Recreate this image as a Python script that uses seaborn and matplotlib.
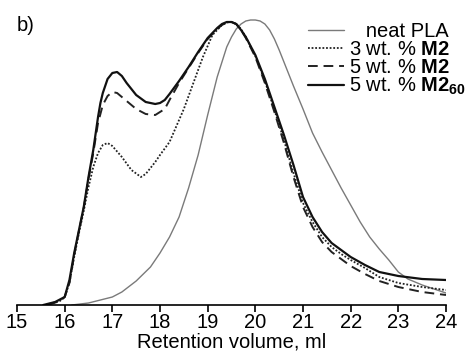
import matplotlib
matplotlib.use("Agg")
import matplotlib.pyplot as plt
import seaborn as sns

# ---- data (y in arbitrary detector units) ----
x_pla = [16.15, 16.5, 17.0, 17.2, 17.5, 17.8, 18.0, 18.2, 18.4, 18.6, 18.8, 19.0, 19.2, 19.4, 19.5,
         19.6, 19.7, 19.8, 19.9, 20.0, 20.1, 20.2, 20.3, 20.4, 20.5, 20.6, 20.8, 21.0, 21.2, 21.4,
         21.6, 21.8, 22.0, 22.2, 22.4, 22.6, 22.8, 23.0, 23.2, 23.5, 24.0]
y_pla = [0, 2, 8, 13, 24, 38, 52, 68, 88, 117, 150, 190, 228, 258, 268,
         276, 281, 284, 285, 285, 284, 281, 275, 266, 255, 243, 219, 196, 172, 153,
         135, 117, 100, 83, 68, 56, 45, 33, 26, 20, 12]

x_3m2 = [15.6, 15.9, 16.0, 16.1, 16.2, 16.3, 16.4, 16.5, 16.6, 16.7, 16.8, 16.9, 17.0, 17.2, 17.4,
         17.6, 17.7, 17.8, 17.9, 18.0, 18.2, 18.4, 18.5, 18.7, 18.9, 19.1, 19.3, 19.4, 19.5, 19.6,
         19.7, 19.8, 20.0, 20.2, 20.4, 20.6, 20.8, 21.0, 21.2, 21.4, 21.6, 21.8, 22.0, 22.3, 22.6,
         23.0, 23.5, 24.0]
y_3m2 = [0, 4, 8, 22, 48, 72, 94, 118, 138, 152, 160, 162, 159, 148, 135,
         128, 131, 137, 143, 150, 163, 185, 196, 222, 248, 270, 280, 282.5, 283, 281,
         276, 268, 249, 224, 195, 165, 132, 102, 83, 68, 58, 51, 45, 37, 28,
         22, 18, 15]

x_5m2 = [15.65, 15.9, 16.0, 16.1, 16.2, 16.3, 16.4, 16.5, 16.6, 16.7, 16.8, 16.9, 17.0, 17.1, 17.3,
         17.5, 17.7, 17.9, 18.1, 18.2, 18.4, 18.6, 18.8, 19.0, 19.2, 19.3, 19.4, 19.5, 19.6, 19.7,
         19.8, 20.0, 20.2, 20.4, 20.6, 20.8, 21.0, 21.2, 21.4, 21.6, 21.8, 22.0, 22.3, 22.6, 23.0,
         23.5, 24.0]
y_5m2 = [0, 4, 8, 22, 50, 74, 97, 126, 152, 182, 200, 209, 213, 212, 204,
         196, 191, 190, 196, 205, 222, 237, 252, 266, 276, 280, 282.5, 283, 281, 275,
         267, 248, 222, 193, 162, 128, 98, 78, 63, 53, 46, 39, 31, 24, 18,
         13, 10]

x_5m260 = [15.55, 15.8, 16.0, 16.1, 16.2, 16.3, 16.4, 16.5, 16.6, 16.7, 16.75, 16.8, 16.9, 17.0, 17.1,
           17.2, 17.3, 17.5, 17.7, 17.9, 18.0, 18.1, 18.2, 18.4, 18.6, 18.8, 19.0, 19.2, 19.3, 19.4,
           19.5, 19.6, 19.7, 19.8, 20.0, 20.2, 20.4, 20.6, 20.8, 21.0, 21.2, 21.4, 21.6, 21.8, 22.0,
           22.3, 22.6, 23.0, 23.5, 24.0]
y_5m260 = [0, 3, 8, 25, 52, 75, 98, 128, 155, 188, 202, 212, 226, 232, 233,
           229, 222, 210, 203, 201, 202, 205, 211, 224, 238, 253, 267, 277, 281, 283,
           283, 281, 275, 268, 250, 226, 198, 170, 140, 108, 88, 73, 62, 55, 48,
           40, 33, 29, 26, 25]

labels = ["   neat PLA", r"3 wt. % $\mathbf{M2}$", r"5 wt. % $\mathbf{M2}$",
          r"5 wt. % $\mathbf{M2}_{\mathbf{60}}$"]
xticks = [15, 16, 17, 18, 19, 20, 21, 22, 23, 24]

sns.set_theme(style="white")
plt.rcParams["font.family"] = ["Liberation Sans", "DejaVu Sans"]
plt.rcParams["mathtext.fontset"] = "custom"
plt.rcParams["mathtext.rm"] = "Liberation Sans"
plt.rcParams["mathtext.bf"] = "Liberation Sans:bold"
plt.rcParams["mathtext.it"] = "Liberation Sans:italic"

fig = plt.figure(figsize=(4.77, 3.56), dpi=100)
ax = fig.add_axes([17 / 477, 51 / 356, 429 / 477, 305 / 356])

sns.lineplot(x=x_pla, y=y_pla, ax=ax, color="#7a7a7a", linewidth=1.0, label=labels[0])
sns.lineplot(x=x_3m2, y=y_3m2, ax=ax, color="#222222", linewidth=1.3, linestyle=(0, (1, 1)),
             label=labels[1])
sns.lineplot(x=x_5m2, y=y_5m2, ax=ax, color="#222222", linewidth=1.4, linestyle=(0, (5, 3)),
             label=labels[2])
sns.lineplot(x=x_5m260, y=y_5m260, ax=ax, color="#111111", linewidth=1.6, label=labels[3])

ax.set_xlim(15, 24)
ax.set_ylim(0, 305)
ax.set_xticks(xticks)
ax.set_xticklabels([str(t) for t in xticks])
ax.set_yticks([])
for s in ["left", "right", "top"]:
    ax.spines[s].set_visible(False)
ax.spines["bottom"].set_color("black")
ax.spines["bottom"].set_linewidth(1.2)
ax.tick_params(axis="x", direction="out", length=5, width=1.2, colors="black",
               labelsize=14.5, pad=0.5, bottom=True)
ax.set_xlabel("Retention volume, ml", fontsize=14.5, color="black", labelpad=0.5)
ax.set_ylabel("")

leg = ax.legend(loc="upper right", bbox_to_anchor=(1.064, 0.955), frameon=False, fontsize=14.5,
                handlelength=1.75, handletextpad=0.25, labelspacing=-0.05, borderaxespad=0)
for t in leg.get_texts():
    t.set_color("black")

fig.text(17 / 477, 1 - 16 / 356, "b)", fontsize=14.5, color="black", ha="left", va="top")

fig.savefig("out.png", dpi=100)
